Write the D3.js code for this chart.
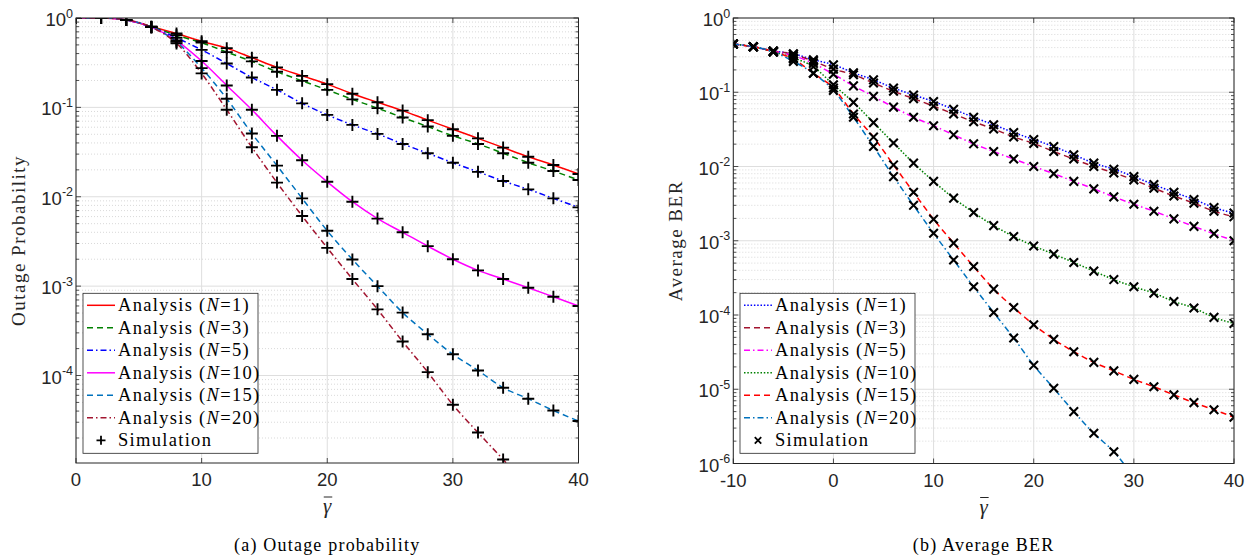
<!DOCTYPE html>
<html>
<head>
<meta charset="utf-8">
<script src="https://cdn.jsdelivr.net/npm/d3@7"></script>
<style>
body { margin: 0; background: #fff; }
</style>
</head>
<body>
<script>
var width = 1249, height = 556;

// (a) outage probability, simulation points every 2 dB
var snrOut = [0,2,4,6,8,10,12,14,16,18,20,22,24,26,28,30,32,34,36,38,40];
var outN1  = [1,1,0.95,0.8,0.67,0.55,0.46,0.36,0.28,0.225,0.182,0.142,0.114,0.092,0.072,0.057,0.045,0.0355,0.028,0.0227,0.018];
var outN3  = [1,1,0.95,0.8,0.64,0.53,0.415,0.327,0.25,0.198,0.157,0.123,0.098,0.077,0.061,0.048,0.039,0.0307,0.024,0.0194,0.0154];
var outN5  = [1,1,0.95,0.79,0.6,0.44,0.31,0.216,0.157,0.111,0.0824,0.0637,0.0505,0.039,0.0307,0.024,0.019,0.015,0.0121,0.0096,0.0076];
var outN10 = [1,1,0.95,0.79,0.56,0.33,0.176,0.094,0.048,0.0256,0.0147,0.0088,0.0057,0.004,0.0028,0.002,0.0015,0.0012,0.00096,0.00076,0.0006];
var outN15 = [1,1,0.95,0.79,0.54,0.275,0.125,0.051,0.0223,0.0096,0.00416,0.00199,0.001,0.000506,0.00029,0.000173,0.000114,7.3e-5,5.5e-5,4.06e-5,3.1e-5];
var outN20 = [1,1,0.95,0.79,0.52,0.24,0.094,0.0358,0.0144,0.0061,0.00268,0.0012,0.00055,0.00024,0.000109,4.7e-5,2.3e-5,1.15e-5,5.6e-6];

// (b) average BER
var snrBer = [-10,-8,-6,-4,-2,0,2,4,6,8,10,12,14,16,18,20,22,24,26,28,30,32,34,36,38,40];
var berN1  = [0.446,0.41,0.36,0.33,0.274,0.235,0.183,0.147,0.114,0.092,0.075,0.059,0.046,0.0365,0.0287,0.0231,0.0186,0.0144,0.0111,0.0092,0.0073,0.0057,0.0045,0.0036,0.0028,0.00236];
var berN3  = [0.446,0.41,0.36,0.325,0.262,0.205,0.172,0.133,0.103,0.082,0.065,0.051,0.04,0.032,0.025,0.0204,0.0159,0.0126,0.01,0.0082,0.0066,0.0051,0.004,0.0032,0.0025,0.0021];
var berN5  = [0.446,0.41,0.355,0.31,0.245,0.175,0.122,0.088,0.063,0.046,0.0354,0.0267,0.0202,0.0159,0.0126,0.01,0.008,0.0063,0.005,0.0039,0.0031,0.0025,0.00197,0.00156,0.00124,0.001];
var berN10 = [0.446,0.41,0.35,0.29,0.22,0.126,0.073,0.039,0.0207,0.0111,0.0063,0.00375,0.0024,0.0016,0.00114,0.00085,0.00066,0.00051,0.00039,0.0003,0.00024,0.000197,0.000152,0.000124,9.3e-5,7.7e-5];
var berN15 = [0.446,0.41,0.35,0.28,0.18,0.114,0.051,0.0249,0.0105,0.0045,0.00195,0.00093,0.00045,0.000223,0.000126,7.4e-5,4.7e-5,3.2e-5,2.3e-5,1.77e-5,1.36e-5,1.08e-5,8.4e-6,6.6e-6,5.3e-6,4.2e-6];
var berN20 = [0.446,0.41,0.35,0.26,0.18,0.106,0.046,0.0186,0.0073,0.003,0.00126,0.00055,0.00024,0.000108,4.9e-5,2.1e-5,1.03e-5,5e-6,2.55e-6,1.44e-6,6.5e-7];

var nLabels = ["1","3","5","10","15","20"];
var outTicksX = [0,10,20,30,40];
var berTicksX = [-10,0,10,20,30,40];
var outTicksExp = [0,-1,-2,-3,-4];
var berTicksExp = [0,-1,-2,-3,-4,-5,-6];

var sansFont = "'Liberation Sans', Arial, sans-serif";
var serifFont = "'Liberation Serif', 'Times New Roman', serif";
var axisColor = "#262626";

var styles = {
  solid: null,
  dashed: "6,4",
  dashdot: "6,3,1.5,3",
  dotted: "1.5,1.8"
};

var svg = d3.select("body")
  .append("svg")
  .attr("width", width)
  .attr("height", height)
  .attr("id", "svg");

var defs = svg.append("defs");

var panels = [
  {
    id: "a", left: 76, right: 578.5, top: 18, bottom: 463,
    xDomain: [0, 40], yDomain: [1.05e-5, 1],
    xTicks: outTicksX, yExp: outTicksExp,
    xs: snrOut,
    series: [outN1, outN3, outN5, outN10, outN15, outN20],
    colors: ["#ff0000", "#008000", "#0000ff", "#ff00ff", "#0072bd", "#a2142f"],
    dash: ["solid", "dashed", "dashdot", "solid", "dashed", "dashdot"],
    marker: "plus",
    ylabel: "Outage Probability",
    caption: "(a) Outage probability",
    legendX: 83
  },
  {
    id: "b", left: 733.3, right: 1234, top: 18, bottom: 463.5,
    xDomain: [-10, 40], yDomain: [1e-6, 1],
    xTicks: berTicksX, yExp: berTicksExp,
    xs: snrBer,
    series: [berN1, berN3, berN5, berN10, berN15, berN20],
    colors: ["#0000ff", "#a2142f", "#ff00ff", "#008000", "#ff0000", "#0072bd"],
    dash: ["dotted", "dashed", "dashdot", "dotted", "dashed", "dashdot"],
    marker: "cross",
    ylabel: "Average BER",
    caption: "(b) Average BER",
    legendX: 740
  }
];

function markerPath(type) {
  if (type == "plus") return "M-6,0H6M0,-6V6";
  return "M-4.3,-4.3L4.3,4.3M-4.3,4.3L4.3,-4.3";
}

panels.forEach(function(p) {
  var x = d3.scaleLinear().domain(p.xDomain).range([p.left, p.right]);
  var y = d3.scaleLog().domain(p.yDomain).range([p.bottom, p.top]);
  var g = svg.append("g").attr("id", "panel-" + p.id);

  defs.append("clipPath").attr("id", "clip-" + p.id)
    .append("rect")
    .attr("x", p.left).attr("y", p.top)
    .attr("width", p.right - p.left).attr("height", p.bottom - p.top);

  // minor y grid (2..9 in each decade)
  var minor = [];
  var e0 = Math.floor(Math.log10(p.yDomain[0]));
  for (var e = e0; e < 0; e++) {
    for (var k = 2; k <= 9; k++) {
      var v = k * Math.pow(10, e);
      if (v > p.yDomain[0] && v < p.yDomain[1]) minor.push(v);
    }
  }
  g.selectAll(".minorGrid").data(minor).enter().append("line")
    .attr("class", "minorGrid")
    .attr("x1", p.left).attr("x2", p.right)
    .attr("y1", function(d) { return y(d); })
    .attr("y2", function(d) { return y(d); })
    .attr("stroke", "#cfcfcf")
    .attr("stroke-width", 0.8)
    .attr("stroke-dasharray", "1,2");

  // major grid
  g.selectAll(".majorGridY").data(p.yExp).enter().append("line")
    .attr("class", "majorGridY")
    .attr("x1", p.left).attr("x2", p.right)
    .attr("y1", function(d) { return y(Math.pow(10, d)); })
    .attr("y2", function(d) { return y(Math.pow(10, d)); })
    .attr("stroke", "#dedede")
    .attr("stroke-width", 1);
  g.selectAll(".majorGridX").data(p.xTicks).enter().append("line")
    .attr("class", "majorGridX")
    .attr("x1", function(d) { return x(d); })
    .attr("x2", function(d) { return x(d); })
    .attr("y1", p.top).attr("y2", p.bottom)
    .attr("stroke", "#dedede")
    .attr("stroke-width", 1);

  // curves
  var plot = g.append("g").attr("clip-path", "url(#clip-" + p.id + ")");
  var line = d3.line()
    .x(function(d) { return x(d[0]); })
    .y(function(d) { return y(d[1]); })
    .curve(d3.curveMonotoneX);

  p.series.forEach(function(s, i) {
    var pts = s.map(function(v, j) { return [p.xs[j], v]; });
    plot.append("path")
      .datum(pts)
      .attr("d", line)
      .attr("fill", "none")
      .attr("stroke", p.colors[i])
      .attr("stroke-width", 1.5)
      .attr("stroke-dasharray", styles[p.dash[i]]);
  });

  p.series.forEach(function(s, i) {
    var pts = s.map(function(v, j) { return [p.xs[j], v]; });
    plot.selectAll(".sim" + i).data(pts).enter().append("path")
      .attr("class", "sim" + i)
      .attr("transform", function(d) { return "translate(" + x(d[0]) + "," + y(d[1]) + ")"; })
      .attr("d", markerPath(p.marker))
      .attr("fill", "none")
      .attr("stroke", "#000")
      .attr("stroke-width", p.marker == "plus" ? 1.9 : 2.1);
  });

  // ticks inside the box, all four sides
  var ticks = g.append("g").attr("stroke", axisColor).attr("stroke-width", 0.8);
  p.xTicks.forEach(function(t) {
    ticks.append("line").attr("x1", x(t)).attr("x2", x(t)).attr("y1", p.bottom).attr("y2", p.bottom - 5);
    ticks.append("line").attr("x1", x(t)).attr("x2", x(t)).attr("y1", p.top).attr("y2", p.top + 5);
  });
  p.yExp.forEach(function(t) {
    var yy = y(Math.pow(10, t));
    ticks.append("line").attr("x1", p.left).attr("x2", p.left + 5).attr("y1", yy).attr("y2", yy);
    ticks.append("line").attr("x1", p.right).attr("x2", p.right - 5).attr("y1", yy).attr("y2", yy);
  });
  minor.forEach(function(v) {
    var yy = y(v);
    ticks.append("line").attr("x1", p.left).attr("x2", p.left + 3).attr("y1", yy).attr("y2", yy);
    ticks.append("line").attr("x1", p.right).attr("x2", p.right - 3).attr("y1", yy).attr("y2", yy);
  });

  g.append("rect")
    .attr("x", p.left).attr("y", p.top)
    .attr("width", p.right - p.left).attr("height", p.bottom - p.top)
    .attr("fill", "none")
    .attr("stroke", axisColor)
    .attr("stroke-width", 1);

  // tick labels
  g.selectAll(".xLabel").data(p.xTicks).enter().append("text")
    .attr("class", "xLabel")
    .attr("x", function(d) { return x(d); })
    .attr("y", p.bottom + 23)
    .attr("text-anchor", "middle")
    .attr("font-family", sansFont)
    .attr("font-size", 18.5)
    .attr("fill", axisColor)
    .text(function(d) { return d; });

  var yl = g.selectAll(".yLabel").data(p.yExp).enter().append("text")
    .attr("class", "yLabel")
    .attr("x", p.left - 3)
    .attr("y", function(d) { return y(Math.pow(10, d)) + 8; })
    .attr("text-anchor", "end")
    .attr("font-family", sansFont)
    .attr("font-size", 18.5)
    .attr("fill", axisColor);
  yl.append("tspan").text("10");
  yl.append("tspan").attr("dy", -8.5).attr("font-size", 12.5).text(function(d) { return d; });

  // x axis title: gamma with an overbar
  var cx = (p.left + p.right) / 2;
  g.append("text")
    .attr("x", cx).attr("y", p.bottom + 50)
    .attr("text-anchor", "middle")
    .attr("font-family", serifFont)
    .attr("font-style", "italic")
    .attr("font-size", 21)
    .attr("fill", axisColor)
    .text("\u03b3");
  g.append("line")
    .attr("x1", cx - 3.5).attr("x2", cx + 5)
    .attr("y1", p.bottom + 34).attr("y2", p.bottom + 34)
    .attr("stroke", axisColor)
    .attr("stroke-width", 1);

  g.append("text")
    .attr("transform", "translate(" + (p.left - 51) + "," + ((p.top + p.bottom) / 2) + ") rotate(-90)")
    .attr("text-anchor", "middle")
    .attr("font-family", serifFont)
    .attr("font-size", 19)
    .attr("letter-spacing", 1.5)
    .attr("fill", axisColor)
    .text(p.ylabel);

  g.append("text")
    .attr("x", cx).attr("y", 551)
    .attr("text-anchor", "middle")
    .attr("font-family", serifFont)
    .attr("font-size", 18)
    .attr("letter-spacing", 1.2)
    .attr("fill", "#000")
    .text(p.caption);

  // legend
  var lx = p.legendX, ly = 293.3;
  var lg = g.append("g").attr("class", "legend");
  lg.append("rect")
    .attr("x", lx).attr("y", ly)
    .attr("width", 175).attr("height", 160)
    .attr("fill", "#fff")
    .attr("stroke", axisColor)
    .attr("stroke-width", 0.8);

  var rows = lg.selectAll(".row").data(nLabels).enter().append("g")
    .attr("class", "row")
    .attr("transform", function(d, i) { return "translate(" + lx + "," + (ly + 12 + i * 22.5) + ")"; });
  rows.append("line")
    .attr("x1", 4).attr("x2", 32).attr("y1", 0).attr("y2", 0)
    .attr("stroke", function(d, i) { return p.colors[i]; })
    .attr("stroke-width", 1.5)
    .attr("stroke-dasharray", function(d, i) { return styles[p.dash[i]]; });
  var rt = rows.append("text")
    .attr("x", 35).attr("y", 6)
    .attr("font-family", serifFont)
    .attr("font-size", 18.5)
    .attr("letter-spacing", 1.3)
    .attr("fill", "#000");
  rt.append("tspan").text("Analysis (");
  rt.append("tspan").attr("font-style", "italic").text("N");
  rt.append("tspan").text(function(d) { return "=" + d + ")"; });

  var simRow = lg.append("g").attr("transform", "translate(" + lx + "," + (ly + 12 + 6 * 22.5) + ")");
  simRow.append("path")
    .attr("transform", "translate(18,0) scale(0.75)")
    .attr("d", markerPath(p.marker))
    .attr("fill", "none")
    .attr("stroke", "#000")
    .attr("stroke-width", 2.4);
  simRow.append("text")
    .attr("x", 35).attr("y", 6)
    .attr("font-family", serifFont)
    .attr("font-size", 18.5)
    .attr("letter-spacing", 1.3)
    .attr("fill", "#000")
    .text("Simulation");
});
</script>
</body>
</html>
